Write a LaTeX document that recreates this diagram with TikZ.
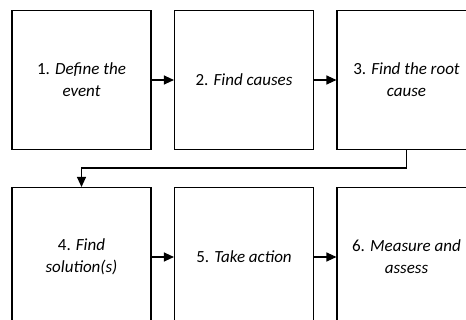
\documentclass[tikz,border=0pt]{standalone}
\usepackage{fontspec}
\setmainfont{Carlito}
\usetikzlibrary{arrows.meta}
\begin{document}
\begin{tikzpicture}[x=1pt,y=-1pt,
  stepbox/.style={draw=black, line width=1.1pt, fill=white,
    minimum width=139pt, minimum height=139pt, inner sep=0pt,
    align=center,
    font=\fontsize{17pt}{21.7pt}\selectfont},
  flow/.style={line width=1.1pt, -{Triangle[length=10pt,width=9pt]}}]
\useasboundingbox (0,0) rectangle (466,320);
\clip (0,0) rectangle (466,320);
% top row
\node[stepbox] (s1) at (81.5,80) {1. \textit{Define the}\\\textit{event}};
\node[stepbox] (s2) at (244,80) {2. \textit{Find causes}};
\node[stepbox] (s3) at (406.5,80) {3. \textit{Find the root}\\\textit{cause}};
% bottom row
\node[stepbox] (s4) at (81.5,257) {4. \textit{Find}\\\textit{solution(s)}};
\node[stepbox] (s5) at (244,257) {5. \textit{Take action}};
\node[stepbox] (s6) at (406.5,257) {6. \textit{Measure and}\\\textit{assess}};
% connectors
\draw[flow] (s1.east) -- (s2.west);
\draw[flow] (s2.east) -- (s3.west);
\coordinate (turn) at (0,168);
\draw[flow] (s3.south) -- (s3.south |- turn) -- (s4.north |- turn) -- (s4.north);
\draw[flow] (s4.east) -- (s5.west);
\draw[flow] (s5.east) -- (s6.west);
\end{tikzpicture}
\end{document}
